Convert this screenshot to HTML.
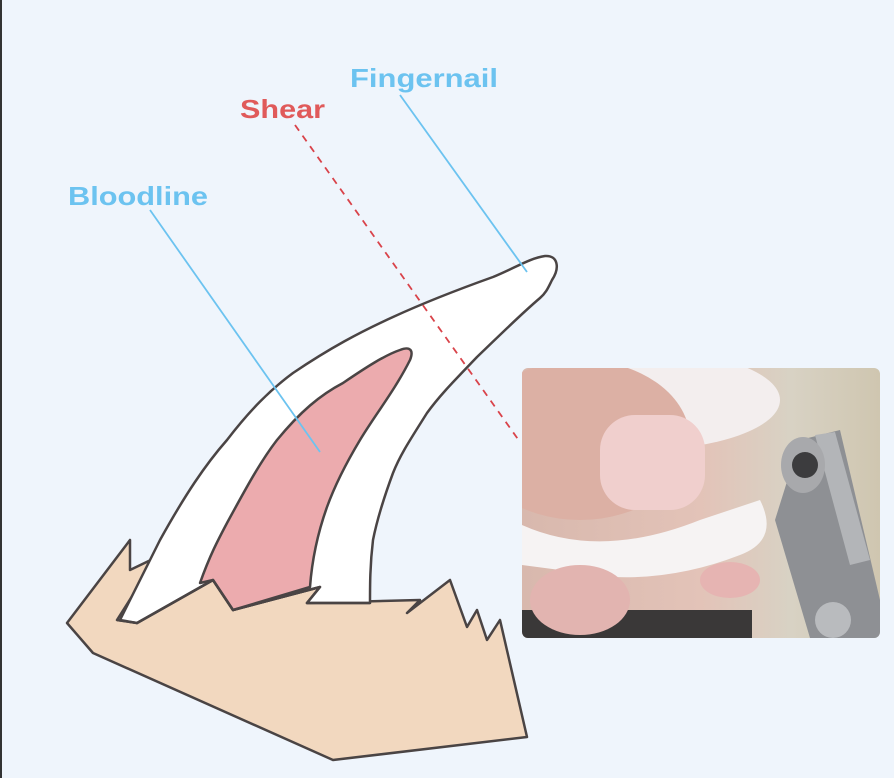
<!DOCTYPE html>
<html><head><style>
html,body{margin:0;padding:0;background:#eff5fc;}
svg{display:block}
text{font-family:"Liberation Sans",sans-serif;font-weight:bold;}
</style></head><body>
<svg width="894" height="778" viewBox="0 0 894 778" xmlns="http://www.w3.org/2000/svg">
<defs>
<linearGradient id="bg" x1="0" y1="0" x2="1" y2="0">
<stop offset="0" stop-color="#d8b8ad"/><stop offset="0.5" stop-color="#e3c3b8"/><stop offset="0.75" stop-color="#d8d2c4"/><stop offset="1" stop-color="#cfc6b0"/>
</linearGradient>
<clipPath id="pc"><rect x="522" y="368" width="358" height="270" rx="6"/></clipPath>
</defs>
<rect width="894" height="778" fill="#eff5fc"/>
<rect x="0" y="0" width="2" height="778" fill="#333"/>
<g clip-path="url(#pc)">
<rect x="522" y="368" width="358" height="270" fill="url(#bg)"/>
<rect x="522" y="610" width="230" height="28" fill="#3a3838"/>
<ellipse cx="640" cy="400" rx="140" ry="50" fill="#f3eeee"/>
<ellipse cx="580" cy="440" rx="110" ry="80" fill="#dcb0a4"/>
<rect x="600" y="415" width="105" height="95" rx="35" fill="#f0cfcd"/>
<path d="M522 525 Q600 560 700 520 L760 500 Q780 540 740 555 Q650 590 560 570 L522 565Z" fill="#f6f3f3"/>
<ellipse cx="580" cy="600" rx="50" ry="35" fill="#e2b4b0"/>
<ellipse cx="730" cy="580" rx="30" ry="18" fill="#e6b4b2"/>
<path d="M800 440 L840 430 L880 600 L880 638 L810 638 L775 520Z" fill="#8e9094"/>
<path d="M815 435 L835 432 L870 560 L850 565Z" fill="#b3b5b8"/>
<ellipse cx="803" cy="465" rx="22" ry="28" fill="#a8a9ac"/>
<circle cx="805" cy="465" r="13" fill="#3c3c3e"/>
<circle cx="833" cy="620" r="18" fill="#b9bbbe"/>
</g>
<path d="M67,623 L130,540 L130,570 L157,557 L117,620 L137,623 L213,580 L233,610 L320,587 L307,603 L420,600 L407,613 L450,580 L467,627 L477,610 L487,640 L500,620 L527,737 L333,760 L93,653 Z" fill="#f2d8bf" stroke="#4a4444" stroke-width="2.5" stroke-linejoin="round"/>
<path d="M120,620 C140,580 150,560 160,540 C185,495 205,465 227,440 C250,410 270,390 293,373 C330,348 360,332 393,317 C430,300 465,287 493,277 C515,268 530,258 545,256 C558,255 560,268 552,280 C548,288 546,293 540,298 C520,315 500,335 477,357 C455,380 440,395 427,413 C410,440 400,455 393,473 C383,500 377,520 373,540 C370,565 370,585 370,603 L307,603 L320,587 L233,610 L213,580 L137,623 Z" fill="#fff" stroke="#4a4444" stroke-width="2.5" stroke-linejoin="round"/>
<path d="M200,583 C210,555 218,540 227,523 C245,490 260,462 277,440 C300,412 320,395 343,383 C365,368 385,355 400,350 C410,346 414,350 410,360 C395,390 375,415 360,440 C345,465 335,485 327,507 C317,535 312,560 310,587 L233,610 L213,580 Z" fill="#ecabae" stroke="#4a4444" stroke-width="2.5" stroke-linejoin="round"/>
<path d="M117,620 L137,623 L213,580 L233,610 L320,587 L307,603 L370,603" fill="none" stroke="#4a4444" stroke-width="2.5" stroke-linejoin="round"/>
<line x1="400" y1="95" x2="527" y2="272" stroke="#6cc3f0" stroke-width="1.8"/>
<line x1="150" y1="210" x2="320" y2="452" stroke="#6cc3f0" stroke-width="1.8"/>
<line x1="295" y1="125" x2="520" y2="442" stroke="#d9434a" stroke-width="1.8" stroke-dasharray="7,6"/>
<text x="350" y="87" font-size="26" fill="#6cc3f0" textLength="148" lengthAdjust="spacingAndGlyphs">Fingernail</text>
<text x="240" y="118" font-size="26" fill="#e05a5a" textLength="85" lengthAdjust="spacingAndGlyphs">Shear</text>
<text x="68" y="205" font-size="26" fill="#6cc3f0" textLength="140" lengthAdjust="spacingAndGlyphs">Bloodline</text>
</svg>
</body></html>
